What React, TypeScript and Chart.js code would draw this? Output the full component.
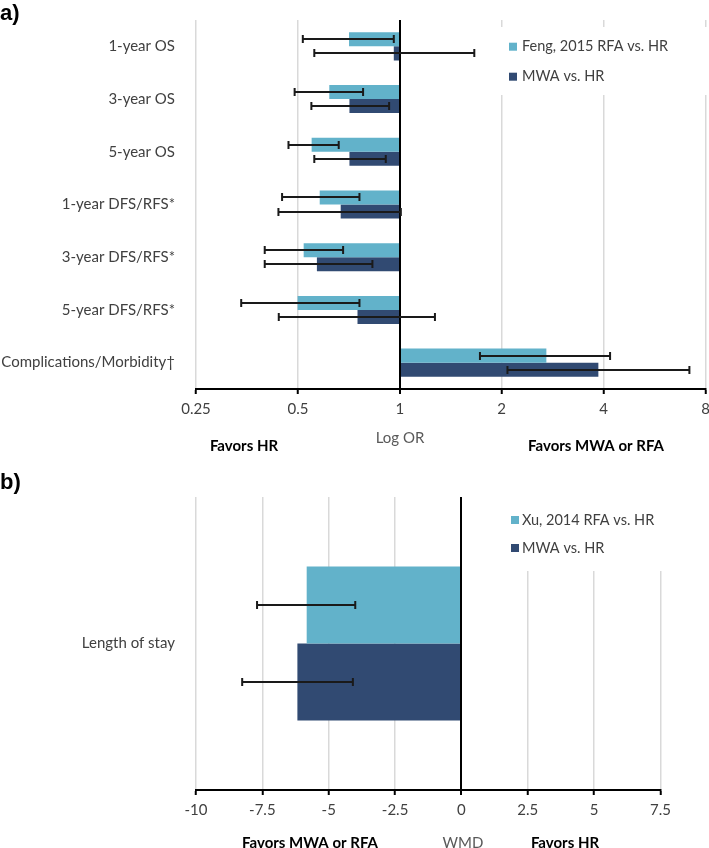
import React, { useEffect, useRef } from 'react';
import { Chart, registerables } from 'chart.js';

Chart.register(...registerables);

// ---------- Data: panel a ----------
const categoriesA = [
  '1-year OS',
  '3-year OS',
  '5-year OS',
  '1-year DFS/RFS*',
  '3-year DFS/RFS*',
  '5-year DFS/RFS*',
  'Complications/Morbidity†',
];
const seriesNamesA = ['Feng, 2015 RFA vs. HR', 'MWA vs. HR'];
const fengOR = [0.708, 0.619, 0.549, 0.58, 0.52, 0.499, 2.71];
const fengLow = [0.517, 0.489, 0.469, 0.449, 0.399, 0.34, 1.725];
const fengHigh = [0.96, 0.779, 0.66, 0.76, 0.68, 0.76, 4.18];
const mwaOR = [0.96, 0.71, 0.71, 0.669, 0.569, 0.75, 3.86];
const mwaLow = [0.559, 0.548, 0.559, 0.438, 0.399, 0.439, 2.08];
const mwaHigh = [1.66, 0.93, 0.909, 1.007, 0.83, 1.27, 7.17];
const ticksA = [0.25, 0.5, 1, 2, 4, 8];

// ---------- Data: panel b ----------
const categoriesB = ['Length of stay'];
const seriesNamesB = ['Xu, 2014 RFA vs. HR', 'MWA vs. HR'];
const xuWMD = [-5.83];
const xuLow = [-7.7];
const xuHigh = [-4.0];
const mwaWMD = [-6.18];
const mwaWMDLow = [-8.26];
const mwaWMDHigh = [-4.09];
const ticksB = [-10, -7.5, -5, -2.5, 0, 2.5, 5, 7.5];

// ---------- Styles ----------
const LIGHT = '#62B2CA';
const DARK = '#314A72';
const TEXT = '#404040';
const GRID = '#D9D9D9';
const FONT = 'Lato, "Open Sans", sans-serif';

const errorBarPlugin = {
  id: 'errorBars',
  afterDatasetsDraw(chart: any, _args: any, opts: any) {
    const { ctx, chartArea } = chart;
    const xs = chart.scales.x;
    ctx.save();
    if (opts.refValue !== undefined) {
      const zx = Math.round(xs.getPixelForValue(opts.refValue));
      ctx.strokeStyle = '#000';
      ctx.lineWidth = 2;
      ctx.beginPath();
      ctx.moveTo(zx, chartArea.top);
      ctx.lineTo(zx, chartArea.bottom);
      ctx.stroke();
    }
    ctx.strokeStyle = '#1A1A1A';
    ctx.lineWidth = 2;
    (opts.bars || []).forEach((b: any, di: number) => {
      const meta = chart.getDatasetMeta(di);
      meta.data.forEach((el: any, i: number) => {
        const y = Math.round(el.y);
        const x1 = xs.getPixelForValue(b.lo[i]);
        const x2 = xs.getPixelForValue(b.hi[i]);
        ctx.beginPath();
        ctx.moveTo(x1, y);
        ctx.lineTo(x2, y);
        ctx.moveTo(x1, y - 4);
        ctx.lineTo(x1, y + 4);
        ctx.moveTo(x2, y - 4);
        ctx.lineTo(x2, y + 4);
        ctx.stroke();
      });
    });
    ctx.restore();
  },
};

const boxLegendPlugin = {
  id: 'boxLegend',
  afterDatasetsDraw(chart: any, _args: any, opts: any) {
    if (!opts || !opts.box) return;
    const { ctx } = chart;
    ctx.save();
    ctx.fillStyle = '#fff';
    ctx.fillRect(opts.box.x, opts.box.y, opts.box.w, opts.box.h);
    ctx.font = `14.5px ${FONT}`;
    ctx.textBaseline = 'middle';
    ctx.textAlign = 'left';
    chart.data.datasets.forEach((ds: any, i: number) => {
      const cy = opts.rows[i];
      ctx.fillStyle = ds.backgroundColor;
      ctx.fillRect(opts.squareX, cy - 4, 8, 8);
      ctx.fillStyle = TEXT;
      ctx.fillText(ds.label, opts.textX, cy);
    });
    ctx.restore();
  },
};

const notesPlugin = {
  id: 'axisNotes',
  afterDraw(chart: any, _args: any, opts: any) {
    if (!opts || !opts.items) return;
    const { ctx } = chart;
    ctx.save();
    ctx.textBaseline = 'middle';
    ctx.textAlign = 'center';
    opts.items.forEach((it: any) => {
      ctx.font = `${it.bold ? 'bold ' : ''}15px ${FONT}`;
      ctx.fillStyle = it.color;
      ctx.fillText(it.text, it.x, it.y);
    });
    ctx.restore();
  },
};

function makeConfig(p: any): any {
  return {
    type: 'bar',
    data: {
      labels: p.labels,
      datasets: p.series.map((s: any) => ({
        label: s.name,
        data: s.values.map((v: number) => [Math.min(v, p.ref), Math.max(v, p.ref)]),
        backgroundColor: s.color,
        borderWidth: 0,
        categoryPercentage: p.catPct,
        barPercentage: 1,
      })),
    },
    plugins: [errorBarPlugin, boxLegendPlugin, notesPlugin],
    options: {
      indexAxis: 'y',
      animation: false,
      responsive: false,
      maintainAspectRatio: false,
      layout: { padding: p.padding },
      plugins: {
        legend: { display: false },
        tooltip: { enabled: false },
        errorBars: {
          refValue: p.ref,
          bars: p.series.map((s: any) => ({ lo: s.lo, hi: s.hi })),
        },
        boxLegend: p.legend,
        axisNotes: { items: p.notes },
      },
      scales: {
        x: {
          type: p.xType,
          min: p.xTicks[0],
          max: p.xTicks[p.xTicks.length - 1],
          afterBuildTicks: (s: any) => {
            s.ticks = p.xTicks.map((v: number) => ({ value: v }));
          },
          afterFit: (s: any) => {
            s.height = p.xHeight;
            s.paddingLeft = 0;
            s.paddingRight = 0;
          },
          ticks: {
            autoSkip: false,
            maxRotation: 0,
            padding: 6,
            color: TEXT,
            font: { family: FONT, size: 15 },
            callback: (v: any) => String(v),
          },
          grid: {
            color: (c: any) => (c.tick && c.tick.value === p.ref ? '#000' : GRID),
            lineWidth: (c: any) => (c.tick && c.tick.value === p.ref ? 2 : 1.5),
            tickColor: '#000',
            tickLength: 5,
            tickWidth: 2,
          },
          border: { display: true, color: '#000', width: 2 },
        },
        y: {
          afterFit: (s: any) => {
            s.width = 196;
            s.paddingTop = 0;
            s.paddingBottom = 0;
          },
          ticks: {
            padding: 21,
            color: TEXT,
            font: { family: FONT, size: 15 },
          },
          grid: { display: false, drawTicks: false },
          border: { display: false },
        },
      },
    },
  };
}

function ChartCanvas({ config, width, height }: any) {
  const ref = useRef<HTMLCanvasElement>(null);
  useEffect(() => {
    if (!ref.current) return;
    const chart = new Chart(ref.current, config);
    return () => chart.destroy();
  }, []);
  return <canvas ref={ref} width={width} height={height} style={{ display: 'block', width, height }} />;
}

const configA = makeConfig({
  labels: categoriesA,
  ref: 1,
  xType: 'logarithmic',
  xTicks: ticksA,
  xHeight: 79,
  catPct: 0.532,
  padding: { top: 20, right: 3.5, left: 0, bottom: 0 },
  series: [
    { name: seriesNamesA[0], values: fengOR, lo: fengLow, hi: fengHigh, color: LIGHT },
    { name: seriesNamesA[1], values: mwaOR, lo: mwaLow, hi: mwaHigh, color: DARK },
  ],
  legend: { box: { x: 498, y: 27, w: 211, h: 68 }, rows: [46.7, 76.7], squareX: 509, textX: 522 },
  notes: [
    { text: 'Favors HR', x: 244, y: 446, bold: true, color: '#000' },
    { text: 'Log OR', x: 400, y: 438, bold: false, color: '#595959' },
    { text: 'Favors MWA or RFA', x: 596, y: 446, bold: true, color: '#000' },
  ],
});

const configB = makeConfig({
  labels: categoriesB,
  ref: 0,
  xType: 'linear',
  xTicks: ticksB,
  xHeight: 58,
  catPct: 0.525,
  padding: { top: 27, right: 48.5, left: 0, bottom: 0 },
  series: [
    { name: seriesNamesB[0], values: xuWMD, lo: xuLow, hi: xuHigh, color: LIGHT },
    { name: seriesNamesB[1], values: mwaWMD, lo: mwaWMDLow, hi: mwaWMDHigh, color: DARK },
  ],
  legend: { box: { x: 505, y: 27, w: 204, h: 74 }, rows: [50, 78], squareX: 511, textX: 522 },
  notes: [
    { text: 'Favors MWA or RFA', x: 310, y: 373, bold: true, color: '#000' },
    { text: 'WMD', x: 463, y: 373, bold: false, color: '#595959' },
    { text: 'Favors HR', x: 565, y: 373, bold: true, color: '#000' },
  ],
});

const panelLabel: React.CSSProperties = {
  position: 'absolute',
  left: 0,
  fontFamily: '"Liberation Sans", Arial, sans-serif',
  fontWeight: 'bold',
  fontSize: 22,
  lineHeight: '22px',
  color: '#000',
};

export default function App() {
  return (
    <div style={{ position: 'absolute', left: 0, top: 0, width: 709, height: 848, overflow: 'hidden', background: '#fff' }}>
      <div style={{ position: 'absolute', left: 0, top: 0 }}>
        <ChartCanvas config={configA} width={709} height={468} />
      </div>
      <div style={{ position: 'absolute', left: 0, top: 470 }}>
        <ChartCanvas config={configB} width={709} height={378} />
      </div>
      <div style={{ ...panelLabel, top: 2 }}>a)</div>
      <div style={{ ...panelLabel, top: 471 }}>b)</div>
    </div>
  );
}
